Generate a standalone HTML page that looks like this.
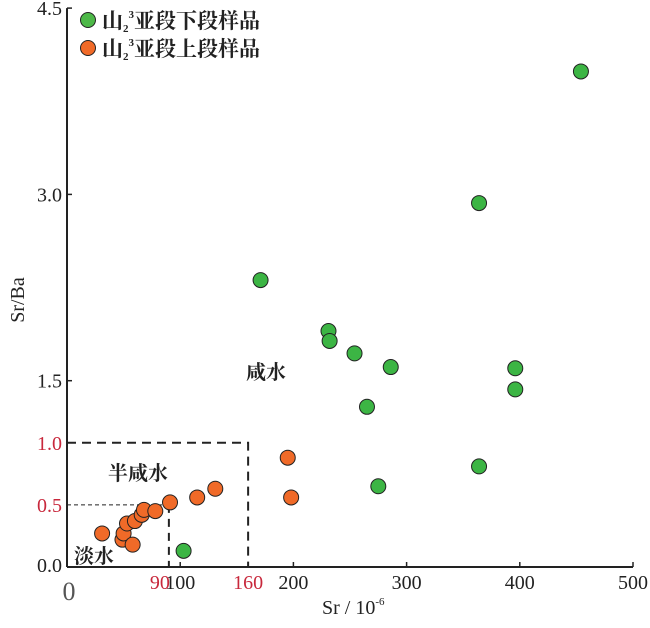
<!DOCTYPE html>
<html><head><meta charset="utf-8">
<style>
body{margin:0;background:#fff;}
svg text{font-family:"Liberation Serif","Noto Serif CJK SC",serif;}
</style></head>
<body>
<svg id="chart" width="650" height="623" viewBox="0 0 650 623" xmlns="http://www.w3.org/2000/svg">
<g id="axes"></g>
<g id="zones"></g>
<g id="marks"></g>
<g>
  <circle cx="88" cy="20" r="7.5" fill="#4db848" stroke="#222" stroke-width="1"/>
  <text x="102" y="28" font-size="21" font-weight="bold" fill="#222" font-family="'Noto Sans CJK SC',sans-serif">山<tspan font-size="11" dy="4">2</tspan><tspan font-size="11" dy="-14">3</tspan><tspan dy="10">亚段下段样品</tspan></text>
  <circle cx="88" cy="48" r="7.5" fill="#f06a28" stroke="#222" stroke-width="1"/>
  <text x="102" y="56" font-size="21" font-weight="bold" fill="#222" font-family="'Noto Sans CJK SC',sans-serif">山<tspan font-size="11" dy="4">2</tspan><tspan font-size="11" dy="-14">3</tspan><tspan dy="10">亚段上段样品</tspan></text>
</g>
<text x="246" y="379" font-size="20" font-weight="bold" fill="#222" font-family="'Noto Sans CJK SC',sans-serif">咸水</text>
<text x="108" y="480" font-size="20" font-weight="bold" fill="#222" font-family="'Noto Sans CJK SC',sans-serif">半咸水</text>
<text x="74" y="563" font-size="20" font-weight="bold" fill="#222" font-family="'Noto Sans CJK SC',sans-serif">淡水</text>
<text x="322" y="614" font-size="20" fill="#222">Sr / 10<tspan font-size="11" dy="-9">-6</tspan></text>
<text x="0" y="0" font-size="20" fill="#222" text-anchor="middle" transform="translate(24,300) rotate(-90)">Sr/Ba</text>
</svg>
<script>
const lowerSr=[103,171,231,232,254,286,265,275,364,364,396,396,454];
const lowerRatio=[0.13,2.31,1.90,1.82,1.72,1.61,1.29,0.65,2.93,0.81,1.60,1.43,3.99];
const upperSr=[31,49,50,53,58,60,66,68,78,91,115,131,195,198];
const upperRatio=[0.27,0.22,0.27,0.35,0.18,0.37,0.42,0.46,0.45,0.52,0.56,0.63,0.88,0.56];
const xTicks=[100,200,300,400,500];
const xTickLabels=["100","200","300","400","500"];
const yTicks=[1.5,3.0,4.5];
const yTickLabels=["1.5","3.0","4.5"];
const redXTicks=[90,160];
const redYTicks=[0.5,1.0];

const NS="http://www.w3.org/2000/svg";
const X0=67,Y0=567;
function xs(v){return X0+v*1.132;}
function ys(v){return Y0-v*124.2;}
function mk(parent,tag,attrs){const e=document.createElementNS(NS,tag);for(const k in attrs)e.setAttribute(k,attrs[k]);parent.appendChild(e);return e;}

const axes=document.getElementById('axes');
let e;
e=mk(axes,'line',{x1:X0,y1:Y0,x2:xs(500),y2:Y0,stroke:'#222','stroke-width':2});


e=mk(axes,'line',{x1:X0,y1:Y0,x2:X0,y2:ys(4.5),stroke:'#222','stroke-width':2});


xTicks.forEach((v,i)=>{
  e=mk(axes,'line',{x1:xs(v),y1:Y0,x2:xs(v),y2:Y0-5,stroke:'#222','stroke-width':1.5});
  
  
  e=mk(axes,'text',{x:xs(v),y:Y0+22,'font-size':20,'text-anchor':'middle',fill:'#222'});
  e.textContent=xTickLabels[i];
  
  
});
redXTicks.forEach((v,i)=>{
  e=mk(axes,'text',{x:i===0?xs(v)+1:xs(v),y:Y0+22,'font-size':20,'text-anchor':i===0?'end':'middle',fill:'#c8283c'});
  e.textContent=String(v);
  
  
});
e=mk(axes,'text',{x:X0+2,y:Y0+33,'font-size':26,'text-anchor':'middle',fill:'#555'});
e.textContent='0';


yTicks.forEach((v,i)=>{
  e=mk(axes,'line',{x1:X0,y1:ys(v),x2:X0+5,y2:ys(v),stroke:'#222','stroke-width':1.5});
  
  
  e=mk(axes,'text',{x:X0-5,y:ys(v)+7,'font-size':20,'text-anchor':'end',fill:'#222'});
  e.textContent=yTickLabels[i];
  
  
});
redYTicks.forEach(v=>{
  e=mk(axes,'text',{x:X0-5,y:ys(v)+7,'font-size':20,'text-anchor':'end',fill:'#c8283c'});
  e.textContent=v.toFixed(1);
  
  
});
e=mk(axes,'text',{x:X0-5,y:Y0+5,'font-size':20,'text-anchor':'end',fill:'#222'});
e.textContent='0.0';



const zones=document.getElementById('zones');
e=mk(zones,'path',{d:`M${X0},${ys(1.0)} H${xs(160)} V${Y0}`,fill:'none',stroke:'#222','stroke-width':2,'stroke-dasharray':'9,6'});


e=mk(zones,'path',{d:`M${X0},${ys(0.5)} H${xs(90)}`,fill:'none',stroke:'#222','stroke-width':1,'stroke-dasharray':'4,3'});


e=mk(zones,'path',{d:`M${xs(90)},${ys(0.5)} V${Y0}`,fill:'none',stroke:'#222','stroke-width':2,'stroke-dasharray':'8,6'});



const marks=document.getElementById('marks');
lowerSr.forEach((v,i)=>{
  e=mk(marks,'circle',{cx:xs(v),cy:ys(lowerRatio[i]),r:7.5,fill:'#3cb544',stroke:'#222','stroke-width':1});
  
  
});
upperSr.forEach((v,i)=>{
  e=mk(marks,'circle',{cx:xs(v),cy:ys(upperRatio[i]),r:7.5,fill:'#f06a28',stroke:'#222','stroke-width':1});
  
  
});
</script>
</body></html>
